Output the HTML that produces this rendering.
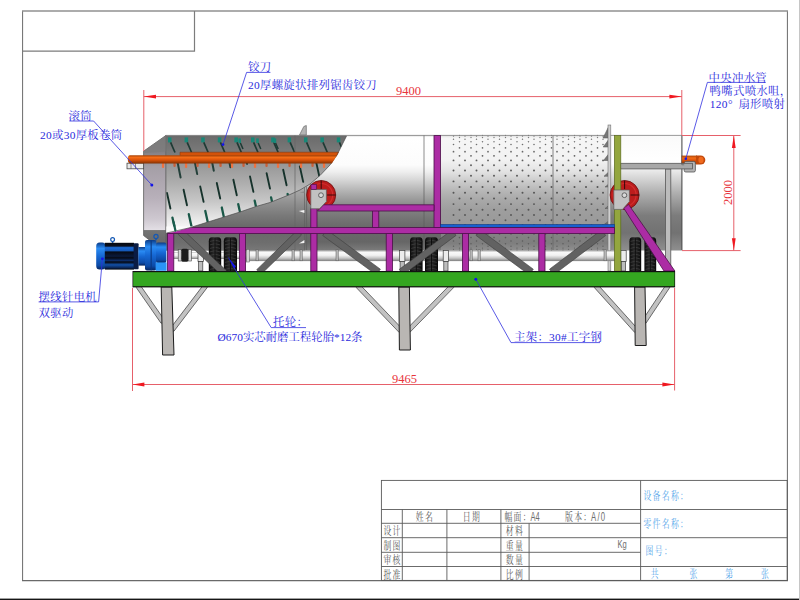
<!DOCTYPE html>
<html lang="zh-CN"><head><meta charset="utf-8"><title>drawing</title>
<style>
html,body{margin:0;padding:0;background:#fff;}
body{width:800px;height:600px;overflow:hidden;}
svg{display:block;}
text{font-family:"Liberation Serif","Noto Serif CJK SC",serif;}
.lb{fill:#2a2adc;font-size:11.4px;letter-spacing:0.3px;}
.dm{fill:#e8343c;font-size:12.5px;}
.tb{font-family:"Liberation Sans","Noto Serif CJK SC",serif;font-size:11.2px;fill:#565656;letter-spacing:1.9px;}
text.ls{font-family:"Liberation Sans",sans-serif;}
.tc{font-family:"Liberation Sans","Noto Serif CJK SC",serif;font-size:11.2px;fill:#55a6ea;letter-spacing:1.9px;}
</style></head><body>
<svg width="800" height="600" viewBox="0 0 800 600">
<defs>
<linearGradient id="gDrum" x1="0" y1="135" x2="0" y2="250.5" gradientUnits="userSpaceOnUse">
<stop offset="0.004" stop-color="#e0e0e0"/><stop offset="0.022" stop-color="#ffffff"/><stop offset="0.260" stop-color="#fcfcfc"/><stop offset="0.320" stop-color="#eeeeee"/><stop offset="0.390" stop-color="#d6d6d6"/><stop offset="0.459" stop-color="#bcbcbc"/><stop offset="0.528" stop-color="#a4a4a4"/><stop offset="0.597" stop-color="#8e8e8e"/><stop offset="0.658" stop-color="#808080"/><stop offset="0.727" stop-color="#747474"/><stop offset="0.797" stop-color="#6a6a6a"/><stop offset="0.857" stop-color="#686868"/><stop offset="0.926" stop-color="#666666"/><stop offset="1.000" stop-color="#7c7c7c"/>
</linearGradient>
<linearGradient id="gPerf" x1="0" y1="135" x2="0" y2="250.5" gradientUnits="userSpaceOnUse">
<stop offset="0.004" stop-color="#e0e0e0"/><stop offset="0.026" stop-color="#f6f6f6"/><stop offset="0.216" stop-color="#f2f2f2"/><stop offset="0.320" stop-color="#e2e2e2"/><stop offset="0.390" stop-color="#cecece"/><stop offset="0.476" stop-color="#b8b8b8"/><stop offset="0.563" stop-color="#a8a8a8"/><stop offset="0.649" stop-color="#9e9e9e"/><stop offset="0.753" stop-color="#9a9a9a"/><stop offset="0.805" stop-color="#989898"/><stop offset="0.848" stop-color="#848484"/><stop offset="0.935" stop-color="#7e7e7e"/><stop offset="1.000" stop-color="#909090"/>
</linearGradient>
<linearGradient id="gShellL" x1="0" y1="135" x2="0" y2="250.5" gradientUnits="userSpaceOnUse">
<stop offset="0.000" stop-color="#d0d0d0"/><stop offset="0.459" stop-color="#acacac"/><stop offset="0.537" stop-color="#9c9c9c"/><stop offset="0.606" stop-color="#8c8c8c"/><stop offset="0.693" stop-color="#7a7a7a"/><stop offset="0.788" stop-color="#6a6a6a"/><stop offset="0.857" stop-color="#6a6a6a"/><stop offset="0.935" stop-color="#6e6e6e"/><stop offset="1.000" stop-color="#787878"/>
</linearGradient>
<linearGradient id="gRight" x1="0" y1="135" x2="0" y2="250" gradientUnits="userSpaceOnUse">
<stop offset="0" stop-color="#fafafa"/><stop offset="0.25" stop-color="#ffffff"/>
<stop offset="0.32" stop-color="#e6e6e6"/><stop offset="0.5" stop-color="#b0b0b0"/>
<stop offset="0.7" stop-color="#7c7c7c"/><stop offset="0.85" stop-color="#727272"/>
<stop offset="1" stop-color="#8e8e8e"/>
</linearGradient>
<linearGradient id="gInner" x1="0" y1="163" x2="0" y2="232" gradientUnits="userSpaceOnUse">
<stop offset="0" stop-color="#969696"/><stop offset="0.25" stop-color="#aaaaaa"/>
<stop offset="0.55" stop-color="#c6c6c6"/><stop offset="0.8" stop-color="#e6e6e6"/><stop offset="1" stop-color="#ffffff"/>
</linearGradient>
<linearGradient id="gTopIn" x1="0" y1="135" x2="0" y2="156" gradientUnits="userSpaceOnUse">
<stop offset="0" stop-color="#6a6a6a"/><stop offset="1" stop-color="#7e7e7e"/>
</linearGradient>
<linearGradient id="gCone" x1="0" y1="135" x2="0" y2="240" gradientUnits="userSpaceOnUse">
<stop offset="0" stop-color="#767676"/><stop offset="0.16" stop-color="#848084"/>
<stop offset="0.3" stop-color="#a49ea6"/><stop offset="0.6" stop-color="#b8b0ba"/>
<stop offset="0.8" stop-color="#cec8d0"/><stop offset="0.9" stop-color="#e2dee4"/><stop offset="0.91" stop-color="#747474"/><stop offset="1" stop-color="#6c6c6c"/>
</linearGradient>
<linearGradient id="gPipe" x1="0" y1="0" x2="0" y2="1">
<stop offset="0" stop-color="#a84408"/><stop offset="0.28" stop-color="#f46c16"/>
<stop offset="0.58" stop-color="#da520a"/><stop offset="1" stop-color="#843204"/>
</linearGradient>
<linearGradient id="gShaft" x1="0" y1="0" x2="0" y2="1">
<stop offset="0" stop-color="#8e8e8e"/><stop offset="0.14" stop-color="#fafafa"/><stop offset="0.45" stop-color="#f2f2f2"/>
<stop offset="0.72" stop-color="#c6c6c6"/><stop offset="1" stop-color="#7e7e7e"/>
</linearGradient>
<linearGradient id="gMotor" x1="0" y1="0" x2="0" y2="1">
<stop offset="0" stop-color="#0c3c86"/><stop offset="0.22" stop-color="#2a8cf4"/>
<stop offset="0.5" stop-color="#1668d4"/><stop offset="0.85" stop-color="#0c4aa6"/><stop offset="1" stop-color="#06245c"/>
</linearGradient>
<linearGradient id="gFin" x1="0" y1="0" x2="0" y2="1">
<stop offset="0" stop-color="#05080f"/><stop offset="0.12" stop-color="#0a1020"/>
<stop offset="0.18" stop-color="#1a6ad6"/><stop offset="0.3" stop-color="#1458b8"/>
<stop offset="0.34" stop-color="#060a14"/><stop offset="0.5" stop-color="#0a1a3c"/>
<stop offset="0.56" stop-color="#060a14"/><stop offset="0.66" stop-color="#0c2c66"/>
<stop offset="0.72" stop-color="#050810"/><stop offset="0.82" stop-color="#1250a8"/>
<stop offset="0.92" stop-color="#0a2a60"/><stop offset="1" stop-color="#04060c"/>
</linearGradient>
<linearGradient id="gTire" x1="0" y1="0" x2="1" y2="0">
<stop offset="0" stop-color="#0a0a0a"/><stop offset="0.45" stop-color="#2e2e2e"/>
<stop offset="0.55" stop-color="#262626"/><stop offset="1" stop-color="#080808"/>
</linearGradient>
<linearGradient id="gLeg" x1="0" y1="0" x2="1" y2="0">
<stop offset="0" stop-color="#3a3a3a"/><stop offset="0.12" stop-color="#b4b4b4"/>
<stop offset="0.8" stop-color="#c6c6c6"/><stop offset="0.9" stop-color="#6a6a6a"/><stop offset="1" stop-color="#2a2a2a"/>
</linearGradient>
<clipPath id="cInner"><path d="M166,135.5 L346.8,135.5 L346.5,136 L342,145 L337,155 L330,165 L320,175.5 L310,184 L300,190 L290,194.5 L280,198.5 L270,202.5 L256,206.5 L240,212 L224,217 L208,222 L192,227 L174,232 L166,232.6 Z"/></clipPath>
</defs>
<rect x="0" y="0" width="800" height="600" fill="#ffffff"/>
<rect x="0" y="598.6" width="800" height="1.4" fill="#161616"/>
<rect x="799" y="0" width="1" height="600" fill="#c6c6c6"/>
<g fill="none" stroke="#6a6a6a" stroke-width="1">
<path d="M22.6,11 V580.6 M787.4,11 V580.6"/>
<path d="M22,11 H788" stroke="#909090" stroke-width="1.5"/>
<path d="M22.5,51.1 H194.5 V11" stroke="#7c7c7c" stroke-width="1.2"/>
</g>
<g id="machine">
<polygon points="136.1,287.3 161.1,323.3 164.9,320.7 139.9,284.7" fill="#c2c2c2" stroke="#4a4a4a" stroke-width="0.8"/>
<polygon points="203.7,284.6 170.2,328.6 173.8,331.4 207.3,287.4" fill="#c2c2c2" stroke="#4a4a4a" stroke-width="0.8"/>
<polygon points="161.2,287 171.8,287 174,355 162.6,355" fill="#b9b6b3" stroke="#1c1c1c" stroke-width="1"/>
<polygon points="356.3,287.6 399.3,332.6 402.7,329.4 359.7,284.4" fill="#c2c2c2" stroke="#4a4a4a" stroke-width="0.8"/>
<polygon points="450.4,284.4 406.4,329.4 409.6,332.6 453.6,287.6" fill="#c2c2c2" stroke="#4a4a4a" stroke-width="0.8"/>
<polygon points="398.8,287 409.4,287 410.4,350 399.4,350" fill="#b9b6b3" stroke="#1c1c1c" stroke-width="1"/>
<polygon points="594.3,287.5 634.8,332.5 638.2,329.5 597.7,284.5" fill="#c2c2c2" stroke="#4a4a4a" stroke-width="0.8"/>
<polygon points="666.1,284.7 642.1,320.7 645.9,323.3 669.9,287.3" fill="#c2c2c2" stroke="#4a4a4a" stroke-width="0.8"/>
<polygon points="634.6,287 645,287 646.2,345.5 635.2,345.5" fill="#b9b6b3" stroke="#1c1c1c" stroke-width="1"/>
<rect x="166" y="135" width="275" height="115.5" fill="url(#gDrum)"/>
<rect x="441" y="135" width="168" height="115.5" fill="url(#gPerf)"/>
<rect x="166" y="135" width="139" height="115.5" fill="url(#gShellL)"/>
<g stroke="#555" stroke-linecap="round" fill="none">
<line x1="459.5" y1="135.43" x2="607" y2="135.43" stroke-width="1.17" stroke-dasharray="0.01 11.49" opacity="0.68"/>
<line x1="453.5" y1="136.16" x2="607" y2="136.16" stroke-width="1.26" stroke-dasharray="0.01 11.49" opacity="0.71"/>
<line x1="459.5" y1="137.45" x2="607" y2="137.45" stroke-width="1.35" stroke-dasharray="0.01 11.49" opacity="0.75"/>
<line x1="453.5" y1="139.29" x2="607" y2="139.29" stroke-width="1.43" stroke-dasharray="0.01 11.49" opacity="0.78"/>
<line x1="459.5" y1="141.65" x2="607" y2="141.65" stroke-width="1.51" stroke-dasharray="0.01 11.49" opacity="0.81"/>
<line x1="453.5" y1="144.53" x2="607" y2="144.53" stroke-width="1.59" stroke-dasharray="0.01 11.49" opacity="0.84"/>
<line x1="459.5" y1="147.88" x2="607" y2="147.88" stroke-width="1.66" stroke-dasharray="0.01 11.49" opacity="0.87"/>
<line x1="453.5" y1="151.67" x2="607" y2="151.67" stroke-width="1.73" stroke-dasharray="0.01 11.49" opacity="0.89"/>
<line x1="459.5" y1="155.87" x2="607" y2="155.87" stroke-width="1.79" stroke-dasharray="0.01 11.49" opacity="0.92"/>
<line x1="453.5" y1="160.43" x2="607" y2="160.43" stroke-width="1.84" stroke-dasharray="0.01 11.49" opacity="0.94"/>
<line x1="459.5" y1="165.31" x2="607" y2="165.31" stroke-width="1.89" stroke-dasharray="0.01 11.49" opacity="0.96"/>
<line x1="453.5" y1="170.47" x2="607" y2="170.47" stroke-width="1.93" stroke-dasharray="0.01 11.49" opacity="0.97"/>
<line x1="459.5" y1="175.84" x2="607" y2="175.84" stroke-width="1.96" stroke-dasharray="0.01 11.49" opacity="0.98"/>
<line x1="453.5" y1="181.38" x2="607" y2="181.38" stroke-width="1.98" stroke-dasharray="0.01 11.49" opacity="0.99"/>
<line x1="459.5" y1="187.04" x2="607" y2="187.04" stroke-width="2.00" stroke-dasharray="0.01 11.49" opacity="1.00"/>
<line x1="453.5" y1="192.75" x2="607" y2="192.75" stroke-width="2.00" stroke-dasharray="0.01 11.49" opacity="1.00"/>
<line x1="459.5" y1="198.46" x2="607" y2="198.46" stroke-width="2.00" stroke-dasharray="0.01 11.49" opacity="1.00"/>
<line x1="453.5" y1="204.12" x2="607" y2="204.12" stroke-width="1.98" stroke-dasharray="0.01 11.49" opacity="0.99"/>
<line x1="459.5" y1="209.66" x2="607" y2="209.66" stroke-width="1.96" stroke-dasharray="0.01 11.49" opacity="0.98"/>
<line x1="453.5" y1="215.03" x2="607" y2="215.03" stroke-width="1.93" stroke-dasharray="0.01 11.49" opacity="0.97"/>
<line x1="459.5" y1="220.19" x2="607" y2="220.19" stroke-width="1.89" stroke-dasharray="0.01 11.49" opacity="0.96"/>
<line x1="453.5" y1="225.07" x2="607" y2="225.07" stroke-width="1.84" stroke-dasharray="0.01 11.49" opacity="0.94"/>
<line x1="459.5" y1="229.63" x2="607" y2="229.63" stroke-width="1.79" stroke-dasharray="0.01 11.49" opacity="0.92"/>
<line x1="453.5" y1="233.83" x2="607" y2="233.83" stroke-width="1.73" stroke-dasharray="0.01 11.49" opacity="0.89"/>
<line x1="459.5" y1="237.62" x2="607" y2="237.62" stroke-width="1.66" stroke-dasharray="0.01 11.49" opacity="0.87"/>
<line x1="453.5" y1="240.97" x2="607" y2="240.97" stroke-width="1.59" stroke-dasharray="0.01 11.49" opacity="0.84"/>
<line x1="459.5" y1="243.85" x2="607" y2="243.85" stroke-width="1.51" stroke-dasharray="0.01 11.49" opacity="0.81"/>
<line x1="453.5" y1="246.21" x2="607" y2="246.21" stroke-width="1.43" stroke-dasharray="0.01 11.49" opacity="0.78"/>
<line x1="459.5" y1="248.05" x2="607" y2="248.05" stroke-width="1.35" stroke-dasharray="0.01 11.49" opacity="0.75"/>
<line x1="453.5" y1="249.34" x2="607" y2="249.34" stroke-width="1.26" stroke-dasharray="0.01 11.49" opacity="0.71"/>
<line x1="459.5" y1="250.07" x2="607" y2="250.07" stroke-width="1.17" stroke-dasharray="0.01 11.49" opacity="0.68"/>
</g>
<rect x="609" y="135" width="73" height="115.5" fill="url(#gRight)"/>
<polygon points="143.6,151.2 166,135.4 166,250 150,240.5 143.6,235.5" fill="url(#gCone)" stroke="#5a5a5a" stroke-width="0.8"/>
<polygon points="143.6,151.2 166,135.4 166,151.5 145,153" fill="#7c7c7c" opacity="0.75"/>
<g clip-path="url(#cInner)">
<rect x="166" y="135" width="185" height="22" fill="url(#gTopIn)"/>
<rect x="166" y="156" width="185" height="80" fill="url(#gInner)"/>
<line x1="177.1" y1="160" x2="180.6" y2="177.5" stroke="#24403a" stroke-width="2" stroke-linecap="round"/>
<line x1="194.4" y1="160" x2="197.2" y2="174.1" stroke="#24403a" stroke-width="2" stroke-linecap="round"/>
<line x1="211.7" y1="160" x2="213.8" y2="170.7" stroke="#24403a" stroke-width="2" stroke-linecap="round"/>
<line x1="228.9" y1="160" x2="230.4" y2="167.3" stroke="#24403a" stroke-width="2" stroke-linecap="round"/>
<line x1="246.2" y1="160" x2="247.0" y2="163.9" stroke="#24403a" stroke-width="2" stroke-linecap="round"/>
<line x1="167.0" y1="193.0" x2="170.4" y2="208.5" stroke="#16322b" stroke-width="1.9" stroke-linecap="round"/>
<line x1="183.6" y1="189.7" x2="187.0" y2="205.2" stroke="#16322b" stroke-width="1.9" stroke-linecap="round"/>
<line x1="200.2" y1="186.4" x2="203.6" y2="201.9" stroke="#16322b" stroke-width="1.9" stroke-linecap="round"/>
<line x1="216.8" y1="183.0" x2="220.2" y2="198.5" stroke="#16322b" stroke-width="1.9" stroke-linecap="round"/>
<line x1="233.4" y1="179.7" x2="236.8" y2="195.2" stroke="#16322b" stroke-width="1.9" stroke-linecap="round"/>
<line x1="250.0" y1="176.4" x2="253.4" y2="191.9" stroke="#16322b" stroke-width="1.9" stroke-linecap="round"/>
<line x1="266.6" y1="173.1" x2="270.0" y2="188.6" stroke="#16322b" stroke-width="1.9" stroke-linecap="round"/>
<line x1="283.2" y1="169.8" x2="286.6" y2="185.3" stroke="#16322b" stroke-width="1.9" stroke-linecap="round"/>
<line x1="299.8" y1="166.4" x2="303.2" y2="181.9" stroke="#16322b" stroke-width="1.9" stroke-linecap="round"/>
<line x1="316.4" y1="163.1" x2="319.8" y2="178.6" stroke="#16322b" stroke-width="1.9" stroke-linecap="round"/>
<line x1="172.4" y1="217.6" x2="175.5" y2="231.6" stroke="#1a5848" stroke-width="2.3" stroke-linecap="round"/>
<line x1="188.8" y1="214.2" x2="191.9" y2="228.2" stroke="#1a5848" stroke-width="2.3" stroke-linecap="round"/>
<line x1="205.3" y1="210.9" x2="208.4" y2="224.9" stroke="#1a5848" stroke-width="2.3" stroke-linecap="round"/>
<line x1="221.8" y1="207.5" x2="224.8" y2="221.5" stroke="#1a5848" stroke-width="2.3" stroke-linecap="round"/>
<line x1="238.2" y1="204.1" x2="241.3" y2="218.1" stroke="#1a5848" stroke-width="2.3" stroke-linecap="round"/>
<line x1="254.7" y1="200.7" x2="257.7" y2="214.7" stroke="#1a5848" stroke-width="2.3" stroke-linecap="round"/>
<line x1="271.1" y1="197.4" x2="274.2" y2="211.4" stroke="#1a5848" stroke-width="2.3" stroke-linecap="round"/>
<line x1="287.6" y1="194.0" x2="290.6" y2="208.0" stroke="#1a5848" stroke-width="2.3" stroke-linecap="round"/>
<line x1="304.0" y1="190.6" x2="307.1" y2="204.6" stroke="#1a5848" stroke-width="2.3" stroke-linecap="round"/>
<rect x="168.0" y="137.4" width="3.5" height="5" fill="#178878"/>
<line x1="170.6" y1="142.4" x2="175.0" y2="152.5" stroke="#1e3a34" stroke-width="1.7"/>
<rect x="184.6" y="137.4" width="3.5" height="5" fill="#178878"/>
<line x1="187.2" y1="142.4" x2="191.6" y2="152.5" stroke="#1e3a34" stroke-width="1.7"/>
<rect x="201.2" y="137.4" width="3.5" height="5" fill="#178878"/>
<line x1="203.8" y1="142.4" x2="208.2" y2="152.5" stroke="#1e3a34" stroke-width="1.7"/>
<rect x="217.8" y="137.4" width="3.5" height="5" fill="#178878"/>
<line x1="220.4" y1="142.4" x2="224.8" y2="152.5" stroke="#1e3a34" stroke-width="1.7"/>
<rect x="234.4" y="137.4" width="3.5" height="5" fill="#178878"/>
<line x1="237.0" y1="142.4" x2="241.4" y2="152.5" stroke="#1e3a34" stroke-width="1.7"/>
<rect x="251.0" y="137.4" width="3.5" height="5" fill="#178878"/>
<line x1="253.6" y1="142.4" x2="258.0" y2="152.5" stroke="#1e3a34" stroke-width="1.7"/>
<rect x="271.2" y="137.4" width="3.5" height="5" fill="#178878"/>
<line x1="273.8" y1="142.4" x2="278.2" y2="152.5" stroke="#1e3a34" stroke-width="1.7"/>
<rect x="287.6" y="137.4" width="3.5" height="5" fill="#178878"/>
<line x1="290.2" y1="142.4" x2="294.6" y2="152.5" stroke="#1e3a34" stroke-width="1.7"/>
<rect x="304.0" y="137.4" width="3.5" height="5" fill="#178878"/>
<line x1="306.6" y1="142.4" x2="311.0" y2="152.5" stroke="#1e3a34" stroke-width="1.7"/>
<rect x="320.4" y="137.4" width="3.5" height="5" fill="#178878"/>
<line x1="323.0" y1="142.4" x2="327.4" y2="152.5" stroke="#1e3a34" stroke-width="1.7"/>
<rect x="336.8" y="137.4" width="3.5" height="5" fill="#178878"/>
<line x1="339.4" y1="142.4" x2="343.8" y2="152.5" stroke="#1e3a34" stroke-width="1.7"/>
<rect x="238.4" y="138.4" width="2.6" height="4.6" fill="#178878"/>
<line x1="240.4" y1="143" x2="243.0" y2="149" stroke="#1e3a34" stroke-width="1.5"/>
<rect x="256.2" y="138.4" width="2.6" height="4.6" fill="#178878"/>
<line x1="258.2" y1="143" x2="260.8" y2="149" stroke="#1e3a34" stroke-width="1.5"/>
<rect x="273.6" y="138.4" width="2.6" height="4.6" fill="#178878"/>
<line x1="275.6" y1="143" x2="278.20000000000005" y2="149" stroke="#1e3a34" stroke-width="1.5"/>
</g>
<path d="M174,232 L192,227 L208,222 L224,217 L240,212 L256,206.5 L270,202.5 L280,198.5 L290,194.5 L300,190 L310,184 L320,175.5 L330,165 L337,155 L342,145 L346.5,136" fill="none" stroke="#4a4a4a" stroke-width="0.7"/>
<g stroke="#6e6e6e" stroke-width="0.8" fill="none">
<line x1="166" y1="135.5" x2="166" y2="234"/>
<line x1="166" y1="135.4" x2="682" y2="135.4" stroke="#808080"/>
<line x1="424" y1="135.5" x2="424" y2="250" stroke="#5c5c5c" stroke-width="0.7"/>
<line x1="553" y1="135.5" x2="553" y2="250" stroke="#686868" stroke-width="0.8"/>
<line x1="681.9" y1="135.5" x2="681.9" y2="250" stroke="#505050" stroke-width="1.1"/>
<line x1="295" y1="135.5" x2="295" y2="250" stroke="#666" stroke-width="0.7"/>
<line x1="304.6" y1="187.5" x2="304.6" y2="250" stroke="#5e5e5e" stroke-width="0.7"/>
<line x1="306.6" y1="186.5" x2="306.6" y2="250" stroke="#5e5e5e" stroke-width="0.7"/>
</g>
<polygon points="304.4,191.2 304.4,193 299.6,192.4" fill="#888"/><polygon points="304.4,210 304.4,213 298.8,211" fill="#f4f4f4"/><polygon points="304.4,240 304.4,243 299,243.5" fill="#f4f4f4"/>
<polygon points="299.5,135 303.8,126.5 306.3,125.5 306.3,135" fill="#b4b4b4" stroke="#6a6a6a" stroke-width="0.7"/>
<g fill="#787878" stroke="#505050" stroke-width="0.5">
<polygon points="608.2,127.5 608.2,138 603,138"/>
<polygon points="608.2,140.2 608.2,147 603.2,147"/>
<polygon points="608.2,154.5 608.2,160.5 603.5,160.5"/>
<polygon points="608.2,172.5 608.2,176.3 604,176.3"/>
<polygon points="608.2,184.5 608.2,187 605,187"/>
<polygon points="608.2,206 608.2,208.5 605,208.5"/>
<polygon points="608.2,221.5 608.2,224 604.6,224"/>
</g>
<rect x="608" y="125" width="2.8" height="146" fill="#cfcfcf" stroke="#707070" stroke-width="0.6"/>
<rect x="665.4" y="169" width="5.4" height="102" fill="#bcbcbc" stroke="#585858" stroke-width="0.8"/>
<path d="M681.6,155.6 H697 V164 H681.6 Z" fill="url(#gPipe)"/>
<path d="M696,155.4 H700.6 A4.7,4.6 0 0 1 700.6,164.6 H696 Z" fill="#c2480a"/>
<ellipse cx="701" cy="160" rx="2.6" ry="3.2" fill="#f06a1e"/>
<rect x="684.2" y="161.4" width="11.2" height="10.6" rx="1.6" fill="#b4b4b4" stroke="#555" stroke-width="0.8"/>
<rect x="620.5" y="163.3" width="72" height="5.6" fill="#a8a8a8" stroke="#565656" stroke-width="0.8"/>
<path d="M684.2,164.8 H681.8 V155.6" fill="none" stroke="#555" stroke-width="0.6"/>
<rect x="173" y="252.6" width="74" height="6.4" fill="url(#gShaft)"/>
<rect x="246" y="250.5" width="369" height="10.6" fill="url(#gShaft)"/>
<rect x="246.4" y="249.4" width="3" height="12.6" fill="#d2d2d2" stroke="#555" stroke-width="0.5"/>
<rect x="178.2" y="249.5" width="3" height="11.5" fill="#d8d8d8" stroke="#444" stroke-width="0.6"/>
<rect x="181.39999999999998" y="248.8" width="6.8" height="13" rx="1.5" fill="#1c1c1c"/>
<rect x="188.39999999999998" y="249.5" width="3" height="11.5" fill="#d8d8d8" stroke="#444" stroke-width="0.6"/>
<rect x="198" y="250.5" width="5.4" height="11" fill="#ececec" stroke="#3c3c3c" stroke-width="0.7"/>
<rect x="198.6" y="261.5" width="4.2" height="9.5" fill="#bdbdbd" stroke="#3c3c3c" stroke-width="0.7"/>
<rect x="399.5" y="250.5" width="5.4" height="11" fill="#ececec" stroke="#3c3c3c" stroke-width="0.7"/>
<rect x="400.1" y="261.5" width="4.2" height="9.5" fill="#bdbdbd" stroke="#3c3c3c" stroke-width="0.7"/>
<rect x="443.2" y="250.5" width="5.4" height="11" fill="#ececec" stroke="#3c3c3c" stroke-width="0.7"/>
<rect x="443.8" y="261.5" width="4.2" height="9.5" fill="#bdbdbd" stroke="#3c3c3c" stroke-width="0.7"/>
<rect x="620.8" y="250.5" width="5.4" height="11" fill="#ececec" stroke="#3c3c3c" stroke-width="0.7"/>
<rect x="621.4" y="261.5" width="4.2" height="9.5" fill="#bdbdbd" stroke="#3c3c3c" stroke-width="0.7"/>
<rect x="256" y="249.8" width="2.2" height="11" fill="#bbb" stroke="#555" stroke-width="0.5"/>
<rect x="292" y="249.8" width="2.2" height="11" fill="#bbb" stroke="#555" stroke-width="0.5"/>
<rect x="300" y="249.8" width="2.2" height="11" fill="#bbb" stroke="#555" stroke-width="0.5"/>
<rect x="336" y="249.8" width="2.2" height="11" fill="#bbb" stroke="#555" stroke-width="0.5"/>
<rect x="470" y="249.8" width="2.2" height="11" fill="#bbb" stroke="#555" stroke-width="0.5"/>
<rect x="478" y="249.8" width="2.2" height="11" fill="#bbb" stroke="#555" stroke-width="0.5"/>
<rect x="604" y="249.8" width="2.2" height="11" fill="#bbb" stroke="#555" stroke-width="0.5"/>
<rect x="208.8" y="237.2" width="12.4" height="38" rx="3" ry="4" fill="url(#gTire)"/>
<path d="M210.0,241.39999999999998 L215.0,240.2 L220.00000000000003,241.39999999999998" fill="none" stroke="#4a4a4a" stroke-width="0.6"/>
<path d="M210.0,244.89999999999998 L215.0,243.7 L220.00000000000003,244.89999999999998" fill="none" stroke="#4a4a4a" stroke-width="0.6"/>
<path d="M210.0,248.39999999999998 L215.0,247.2 L220.00000000000003,248.39999999999998" fill="none" stroke="#4a4a4a" stroke-width="0.6"/>
<path d="M210.0,251.89999999999998 L215.0,250.7 L220.00000000000003,251.89999999999998" fill="none" stroke="#4a4a4a" stroke-width="0.6"/>
<path d="M210.0,255.39999999999998 L215.0,254.2 L220.00000000000003,255.39999999999998" fill="none" stroke="#4a4a4a" stroke-width="0.6"/>
<path d="M210.0,258.9 L215.0,257.7 L220.00000000000003,258.9" fill="none" stroke="#4a4a4a" stroke-width="0.6"/>
<path d="M210.0,262.4 L215.0,261.2 L220.00000000000003,262.4" fill="none" stroke="#4a4a4a" stroke-width="0.6"/>
<path d="M210.0,265.9 L215.0,264.7 L220.00000000000003,265.9" fill="none" stroke="#4a4a4a" stroke-width="0.6"/>
<path d="M210.0,269.4 L215.0,268.2 L220.00000000000003,269.4" fill="none" stroke="#4a4a4a" stroke-width="0.6"/>
<path d="M210.0,272.9 L215.0,271.7 L220.00000000000003,272.9" fill="none" stroke="#4a4a4a" stroke-width="0.6"/>
<line x1="215.0" y1="238.2" x2="215.0" y2="275.2" stroke="#050505" stroke-width="0.8"/>
<rect x="223.8" y="237.2" width="13.2" height="38" rx="3" ry="4" fill="url(#gTire)"/>
<path d="M225.0,241.39999999999998 L230.4,240.2 L235.8,241.39999999999998" fill="none" stroke="#4a4a4a" stroke-width="0.6"/>
<path d="M225.0,244.89999999999998 L230.4,243.7 L235.8,244.89999999999998" fill="none" stroke="#4a4a4a" stroke-width="0.6"/>
<path d="M225.0,248.39999999999998 L230.4,247.2 L235.8,248.39999999999998" fill="none" stroke="#4a4a4a" stroke-width="0.6"/>
<path d="M225.0,251.89999999999998 L230.4,250.7 L235.8,251.89999999999998" fill="none" stroke="#4a4a4a" stroke-width="0.6"/>
<path d="M225.0,255.39999999999998 L230.4,254.2 L235.8,255.39999999999998" fill="none" stroke="#4a4a4a" stroke-width="0.6"/>
<path d="M225.0,258.9 L230.4,257.7 L235.8,258.9" fill="none" stroke="#4a4a4a" stroke-width="0.6"/>
<path d="M225.0,262.4 L230.4,261.2 L235.8,262.4" fill="none" stroke="#4a4a4a" stroke-width="0.6"/>
<path d="M225.0,265.9 L230.4,264.7 L235.8,265.9" fill="none" stroke="#4a4a4a" stroke-width="0.6"/>
<path d="M225.0,269.4 L230.4,268.2 L235.8,269.4" fill="none" stroke="#4a4a4a" stroke-width="0.6"/>
<path d="M225.0,272.9 L230.4,271.7 L235.8,272.9" fill="none" stroke="#4a4a4a" stroke-width="0.6"/>
<line x1="230.4" y1="238.2" x2="230.4" y2="275.2" stroke="#050505" stroke-width="0.8"/>
<rect x="410" y="237.2" width="12.6" height="38" rx="3" ry="4" fill="url(#gTire)"/>
<path d="M411.2,241.39999999999998 L416.3,240.2 L421.40000000000003,241.39999999999998" fill="none" stroke="#4a4a4a" stroke-width="0.6"/>
<path d="M411.2,244.89999999999998 L416.3,243.7 L421.40000000000003,244.89999999999998" fill="none" stroke="#4a4a4a" stroke-width="0.6"/>
<path d="M411.2,248.39999999999998 L416.3,247.2 L421.40000000000003,248.39999999999998" fill="none" stroke="#4a4a4a" stroke-width="0.6"/>
<path d="M411.2,251.89999999999998 L416.3,250.7 L421.40000000000003,251.89999999999998" fill="none" stroke="#4a4a4a" stroke-width="0.6"/>
<path d="M411.2,255.39999999999998 L416.3,254.2 L421.40000000000003,255.39999999999998" fill="none" stroke="#4a4a4a" stroke-width="0.6"/>
<path d="M411.2,258.9 L416.3,257.7 L421.40000000000003,258.9" fill="none" stroke="#4a4a4a" stroke-width="0.6"/>
<path d="M411.2,262.4 L416.3,261.2 L421.40000000000003,262.4" fill="none" stroke="#4a4a4a" stroke-width="0.6"/>
<path d="M411.2,265.9 L416.3,264.7 L421.40000000000003,265.9" fill="none" stroke="#4a4a4a" stroke-width="0.6"/>
<path d="M411.2,269.4 L416.3,268.2 L421.40000000000003,269.4" fill="none" stroke="#4a4a4a" stroke-width="0.6"/>
<path d="M411.2,272.9 L416.3,271.7 L421.40000000000003,272.9" fill="none" stroke="#4a4a4a" stroke-width="0.6"/>
<line x1="416.3" y1="238.2" x2="416.3" y2="275.2" stroke="#050505" stroke-width="0.8"/>
<rect x="425" y="237.2" width="13" height="38" rx="3" ry="4" fill="url(#gTire)"/>
<path d="M426.2,241.39999999999998 L431.5,240.2 L436.8,241.39999999999998" fill="none" stroke="#4a4a4a" stroke-width="0.6"/>
<path d="M426.2,244.89999999999998 L431.5,243.7 L436.8,244.89999999999998" fill="none" stroke="#4a4a4a" stroke-width="0.6"/>
<path d="M426.2,248.39999999999998 L431.5,247.2 L436.8,248.39999999999998" fill="none" stroke="#4a4a4a" stroke-width="0.6"/>
<path d="M426.2,251.89999999999998 L431.5,250.7 L436.8,251.89999999999998" fill="none" stroke="#4a4a4a" stroke-width="0.6"/>
<path d="M426.2,255.39999999999998 L431.5,254.2 L436.8,255.39999999999998" fill="none" stroke="#4a4a4a" stroke-width="0.6"/>
<path d="M426.2,258.9 L431.5,257.7 L436.8,258.9" fill="none" stroke="#4a4a4a" stroke-width="0.6"/>
<path d="M426.2,262.4 L431.5,261.2 L436.8,262.4" fill="none" stroke="#4a4a4a" stroke-width="0.6"/>
<path d="M426.2,265.9 L431.5,264.7 L436.8,265.9" fill="none" stroke="#4a4a4a" stroke-width="0.6"/>
<path d="M426.2,269.4 L431.5,268.2 L436.8,269.4" fill="none" stroke="#4a4a4a" stroke-width="0.6"/>
<path d="M426.2,272.9 L431.5,271.7 L436.8,272.9" fill="none" stroke="#4a4a4a" stroke-width="0.6"/>
<line x1="431.5" y1="238.2" x2="431.5" y2="275.2" stroke="#050505" stroke-width="0.8"/>
<rect x="629.4" y="237.2" width="11.8" height="38" rx="3" ry="4" fill="url(#gTire)"/>
<path d="M630.6,241.39999999999998 L635.3,240.2 L639.9999999999999,241.39999999999998" fill="none" stroke="#4a4a4a" stroke-width="0.6"/>
<path d="M630.6,244.89999999999998 L635.3,243.7 L639.9999999999999,244.89999999999998" fill="none" stroke="#4a4a4a" stroke-width="0.6"/>
<path d="M630.6,248.39999999999998 L635.3,247.2 L639.9999999999999,248.39999999999998" fill="none" stroke="#4a4a4a" stroke-width="0.6"/>
<path d="M630.6,251.89999999999998 L635.3,250.7 L639.9999999999999,251.89999999999998" fill="none" stroke="#4a4a4a" stroke-width="0.6"/>
<path d="M630.6,255.39999999999998 L635.3,254.2 L639.9999999999999,255.39999999999998" fill="none" stroke="#4a4a4a" stroke-width="0.6"/>
<path d="M630.6,258.9 L635.3,257.7 L639.9999999999999,258.9" fill="none" stroke="#4a4a4a" stroke-width="0.6"/>
<path d="M630.6,262.4 L635.3,261.2 L639.9999999999999,262.4" fill="none" stroke="#4a4a4a" stroke-width="0.6"/>
<path d="M630.6,265.9 L635.3,264.7 L639.9999999999999,265.9" fill="none" stroke="#4a4a4a" stroke-width="0.6"/>
<path d="M630.6,269.4 L635.3,268.2 L639.9999999999999,269.4" fill="none" stroke="#4a4a4a" stroke-width="0.6"/>
<path d="M630.6,272.9 L635.3,271.7 L639.9999999999999,272.9" fill="none" stroke="#4a4a4a" stroke-width="0.6"/>
<line x1="635.3" y1="238.2" x2="635.3" y2="275.2" stroke="#050505" stroke-width="0.8"/>
<rect x="644.4" y="237.2" width="11.8" height="38" rx="3" ry="4" fill="url(#gTire)"/>
<path d="M645.6,241.39999999999998 L650.3,240.2 L654.9999999999999,241.39999999999998" fill="none" stroke="#4a4a4a" stroke-width="0.6"/>
<path d="M645.6,244.89999999999998 L650.3,243.7 L654.9999999999999,244.89999999999998" fill="none" stroke="#4a4a4a" stroke-width="0.6"/>
<path d="M645.6,248.39999999999998 L650.3,247.2 L654.9999999999999,248.39999999999998" fill="none" stroke="#4a4a4a" stroke-width="0.6"/>
<path d="M645.6,251.89999999999998 L650.3,250.7 L654.9999999999999,251.89999999999998" fill="none" stroke="#4a4a4a" stroke-width="0.6"/>
<path d="M645.6,255.39999999999998 L650.3,254.2 L654.9999999999999,255.39999999999998" fill="none" stroke="#4a4a4a" stroke-width="0.6"/>
<path d="M645.6,258.9 L650.3,257.7 L654.9999999999999,258.9" fill="none" stroke="#4a4a4a" stroke-width="0.6"/>
<path d="M645.6,262.4 L650.3,261.2 L654.9999999999999,262.4" fill="none" stroke="#4a4a4a" stroke-width="0.6"/>
<path d="M645.6,265.9 L650.3,264.7 L654.9999999999999,265.9" fill="none" stroke="#4a4a4a" stroke-width="0.6"/>
<path d="M645.6,269.4 L650.3,268.2 L654.9999999999999,269.4" fill="none" stroke="#4a4a4a" stroke-width="0.6"/>
<path d="M645.6,272.9 L650.3,271.7 L654.9999999999999,272.9" fill="none" stroke="#4a4a4a" stroke-width="0.6"/>
<line x1="650.3" y1="238.2" x2="650.3" y2="275.2" stroke="#050505" stroke-width="0.8"/>
<clipPath id="cBr"><rect x="160" y="233.5" width="470" height="37.8"/></clipPath><g clip-path="url(#cBr)">
<polygon points="178.2,234.4 221.8,275.4 226.4,270.6 182.8,229.6" fill="#626262" stroke="#3e3e3e" stroke-width="0.6"/>
<polygon points="297.1,230.4 256.7,269.7 261.1,274.3 301.5,235.0" fill="#626262" stroke="#3e3e3e" stroke-width="0.6"/>
<polygon points="322.7,235.5 376.2,274.8 380.4,269.2 326.9,229.9" fill="#626262" stroke="#3e3e3e" stroke-width="0.6"/>
<polygon points="452.0,230.0 399.3,269.3 403.3,274.7 456.0,235.4" fill="#626262" stroke="#3e3e3e" stroke-width="0.6"/>
<polygon points="476.1,235.5 529.1,274.8 533.3,269.2 480.3,229.9" fill="#626262" stroke="#3e3e3e" stroke-width="0.6"/>
<polygon points="601.5,229.9 549.5,269.2 553.7,274.8 605.7,235.5" fill="#626262" stroke="#3e3e3e" stroke-width="0.6"/>
</g>
<circle cx="321.2" cy="195" r="14.5" fill="#bc1c1c" stroke="#6a0e0e" stroke-width="0.8"/>
<circle cx="321.2" cy="195" r="11.5" fill="none" stroke="#e03a3a" stroke-width="1.2" opacity="0.6"/>
<path d="M321.2,180.5 V189 M327.2,195 H335.7" stroke="#2a0808" stroke-width="0.9" fill="none"/>
<circle cx="624.6" cy="195" r="14.5" fill="#bc1c1c" stroke="#6a0e0e" stroke-width="0.8"/>
<circle cx="624.6" cy="195" r="11.5" fill="none" stroke="#e03a3a" stroke-width="1.2" opacity="0.6"/>
<path d="M624.6,180.5 V189 M630.6,195 H639.1" stroke="#2a0808" stroke-width="0.9" fill="none"/>
<rect x="614.4" y="135.6" width="6.4" height="135.6" fill="#93a63e" stroke="#5a6a20" stroke-width="0.7"/>
<rect x="167.6" y="233" width="6.2" height="38.2" fill="#ac2ca4" stroke="#4a1048" stroke-width="0.8"/>
<rect x="239.4" y="233" width="6.2" height="38.2" fill="#ac2ca4" stroke="#4a1048" stroke-width="0.8"/>
<rect x="386.2" y="233" width="6.2" height="38.2" fill="#ac2ca4" stroke="#4a1048" stroke-width="0.8"/>
<rect x="462.4" y="233" width="6.2" height="38.2" fill="#ac2ca4" stroke="#4a1048" stroke-width="0.8"/>
<rect x="538.8" y="233" width="6.2" height="38.2" fill="#ac2ca4" stroke="#4a1048" stroke-width="0.8"/>
<rect x="310.8" y="208" width="6.2" height="63.2" fill="#ac2ca4" stroke="#4a1048" stroke-width="0.8"/>
<rect x="372.6" y="210.5" width="6.2" height="17.5" fill="#ac2ca4" stroke="#4a1048" stroke-width="0.8"/>
<rect x="434" y="135.6" width="6.6" height="92.4" fill="#ac2ca4" stroke="#4a1048" stroke-width="0.8"/>
<rect x="440.6" y="224.4" width="174" height="3.4" fill="#1860d0" stroke="#0c3070" stroke-width="0.5"/>
<rect x="167.6" y="227.6" width="446.8" height="6" fill="#ac2ca4" stroke="#4a1048" stroke-width="0.8"/>
<polygon points="323.5,204.8 434,204.8 434,211 317.4,211" fill="#ac2ca4" stroke="#4a1048" stroke-width="0.8"/>
<polygon points="623.75,208.2 628.5,204.4 674.9,271 664,271" fill="#ac2ca4" stroke="#4a1048" stroke-width="0.8"/>
<polygon points="166.4,226.6 194,226.6 174,232 166.4,233" fill="#fbfbfb"/>
<line x1="166.6" y1="233" x2="194" y2="226.8" stroke="#4a4a4a" stroke-width="0.7"/>
<line x1="173.6" y1="222" x2="175.4" y2="230.6" stroke="#1b5e4e" stroke-width="2.2" stroke-linecap="round"/>
<polygon points="310.8,189.4 326.4,189.4 326.4,201.5 319.5,208.8 310.8,208.8" fill="#c2c2c2" stroke="#5c5c5c" stroke-width="0.7"/>
<rect x="311" y="184.4" width="5.6" height="5" fill="#ac2ca4" stroke="#4a1048" stroke-width="0.6"/>
<circle cx="321" cy="195.2" r="2.4" fill="#d8d8d8" stroke="#4a4a4a" stroke-width="0.8"/>
<polygon points="613.8,190 629.4,190 629.4,201.5 622.5,209.4 613.8,209.4" fill="#c2c2c2" stroke="#5c5c5c" stroke-width="0.7"/>
<circle cx="624.4" cy="195.2" r="2.4" fill="#d8d8d8" stroke="#4a4a4a" stroke-width="0.8"/>
<polygon points="180,152.2 338.4,152.2 336.4,156 180,156" fill="#d2520a" stroke="#7a3006" stroke-width="0.5"/>
<rect x="161.9" y="162.6" width="2.3" height="5.4" rx="1.1" fill="#ee7240"/>
<rect x="173.4" y="162.6" width="2.3" height="4.4" rx="1.1" fill="#c8603a"/>
<rect x="184.9" y="162.6" width="2.3" height="5.4" rx="1.1" fill="#ee7240"/>
<rect x="196.4" y="162.6" width="2.3" height="4.4" rx="1.1" fill="#c8603a"/>
<rect x="207.9" y="162.6" width="2.3" height="5.4" rx="1.1" fill="#ee7240"/>
<rect x="219.4" y="162.6" width="2.3" height="4.4" rx="1.1" fill="#c8603a"/>
<rect x="230.9" y="162.6" width="2.3" height="5.4" rx="1.1" fill="#ee7240"/>
<rect x="242.4" y="162.6" width="2.3" height="4.4" rx="1.1" fill="#c8603a"/>
<rect x="253.9" y="162.6" width="2.3" height="5.4" rx="1.1" fill="#ee7240"/>
<rect x="265.4" y="162.6" width="2.3" height="4.4" rx="1.1" fill="#c8603a"/>
<rect x="276.9" y="162.6" width="2.3" height="5.4" rx="1.1" fill="#ee7240"/>
<rect x="288.4" y="162.6" width="2.3" height="4.4" rx="1.1" fill="#c8603a"/>
<rect x="299.9" y="162.6" width="2.3" height="5.4" rx="1.1" fill="#ee7240"/>
<rect x="311.4" y="162.6" width="2.3" height="4.4" rx="1.1" fill="#c8603a"/>
<rect x="322.9" y="162.6" width="2.3" height="5.4" rx="1.1" fill="#ee7240"/>
<rect x="127" y="163.2" width="16.6" height="5.6" fill="#e8e8e8" stroke="#4c4c4c" stroke-width="0.8"/>
<line x1="131" y1="163.2" x2="131" y2="168.8" stroke="#4c4c4c" stroke-width="0.6"/><line x1="135.5" y1="163.2" x2="135.5" y2="168.8" stroke="#4c4c4c" stroke-width="0.6"/>
<path d="M130,155.2 H337 L331.8,163.4 H130 A2.2,4.1 0 0 1 130,155.2 Z" fill="url(#gPipe)"/>
<rect x="132.5" y="271" width="542.6" height="16.4" fill="#111"/>
<rect x="133.2" y="272.2" width="541.2" height="14" fill="#34a620"/>
<g>
<circle cx="112.6" cy="239.6" r="1.9" fill="none" stroke="#1458b4" stroke-width="1.2"/><rect x="111.8" y="241" width="1.6" height="2" fill="#1458b4"/>
<circle cx="156" cy="236.4" r="2.1" fill="none" stroke="#1458b4" stroke-width="1.2"/><rect x="155.2" y="238" width="1.6" height="2.4" fill="#1458b4"/>
<rect x="96.2" y="242.6" width="9.4" height="27" rx="3.5" fill="url(#gMotor)"/>
<rect x="104.8" y="242.8" width="29.2" height="26.8" fill="url(#gFin)"/>
<rect x="133.6" y="243.2" width="5" height="26" rx="1" fill="#0a1c44"/>
<rect x="138.4" y="247" width="7" height="18.6" fill="url(#gMotor)"/>
<rect x="145" y="240" width="11.4" height="30.6" rx="2" fill="url(#gMotor)"/>
<rect x="156" y="242.6" width="10.4" height="20.4" rx="2" fill="url(#gMotor)"/>
<rect x="155.6" y="262.4" width="11" height="8.4" fill="#2a94f6"/>
<rect x="150.6" y="240.4" width="1.1" height="30" fill="#0a3880"/>
</g>
</g>
<g stroke="#e6606a" stroke-width="1" fill="none">
<line x1="143.8" y1="90" x2="143.8" y2="151"/>
<line x1="681.8" y1="90" x2="681.8" y2="135"/>
<line x1="143.8" y1="96.6" x2="681.8" y2="96.6"/>
<line x1="132.5" y1="288" x2="132.5" y2="391"/>
<line x1="674.6" y1="288" x2="674.6" y2="390.5"/>
<line x1="132.5" y1="384.5" x2="674.6" y2="384.5"/>
<line x1="682" y1="135.5" x2="740.6" y2="135.5"/>
<line x1="682" y1="250.6" x2="740.6" y2="250.6"/>
<line x1="733.8" y1="135.5" x2="733.8" y2="250.6"/>
</g>
<g fill="#f01820">
<polygon points="143.8,96.6 156,94.7 156,98.5"/>
<polygon points="681.8,96.6 669.4,94.7 669.4,98.5"/>
<polygon points="132.5,384.5 144.4,382.6 144.4,386.4"/>
<polygon points="674.6,384.5 662.4,382.6 662.4,386.4"/>
<polygon points="733.8,135.5 731.9,148 735.7,148"/>
<polygon points="733.8,250.6 731.9,238.2 735.7,238.2"/>
</g>
<text class="dm" x="396" y="95">9400</text>
<text class="dm" x="392" y="382.6">9465</text>
<text class="dm" transform="translate(732.2,205) rotate(-90)">2000</text>
<g stroke="#3030e0" stroke-width="0.8" fill="none">
<path d="M69.4,121 H93.6 L151.8,185"/>
<path d="M270.4,72.4 H246.6 L223,144.6"/>
<path d="M765.8,82.4 H707.4 L685.8,158.8"/>
<path d="M38.6,301.9 H98.6 L102.4,258.8"/>
<path d="M306,327.6 H271.2 L233,266"/>
<path d="M600,342.6 H511 L475.8,279.2"/>
</g>
<g fill="#1414e8">
<circle cx="151.8" cy="185" r="1.5"/>
<circle cx="223" cy="144.6" r="1.4"/>
<circle cx="685.8" cy="158.8" r="1.3"/>
<circle cx="102.4" cy="258.8" r="1.4"/>
<circle cx="475.8" cy="279.2" r="1.5"/>
<polygon points="227.4,256.2 236,266.8 233.8,268.2"/>
</g>
<text class="lb" x="68.6" y="119.8">滚筒</text>
<text class="lb" x="40" y="138.5">20或30厚板卷筒</text>
<text class="lb" x="248" y="70.8">铰刀</text>
<text class="lb" x="248" y="88.8">20厚螺旋状排列锯齿铰刀</text>
<text class="lb" x="708.6" y="81.8">中央冲水管</text>
<text class="lb" x="709.6" y="95.3">鸭嘴式喷水咀，</text>
<text class="lb" y="108.2"><tspan x="709.8">120</tspan><tspan x="728">°</tspan><tspan x="738.4">扇形喷射</tspan></text>
<text class="lb" x="38.6" y="301.0">摆线针电机</text>
<text class="lb" x="38.6" y="317.3">双驱动</text>
<text class="lb" x="273" y="326.0">托轮：</text>
<text class="lb" x="217.6" y="341.0" style="letter-spacing:0">Ø670实芯耐磨工程轮胎*12条</text>
<text class="lb" x="514" y="341.0">主架：30#工字钢</text>
<g stroke="#5a5a5a" stroke-width="0.9" fill="none">
<path d="M22,580.6 H788" stroke="#6a6a6a" stroke-width="1.2"/>
<rect x="381.4" y="480.4" width="405.8" height="100"/>
<path d="M381.4,509.5 H787 M381.4,523.3 H640.6 M381.4,537.7 H787 M381.4,552.3 H640.6 M381.4,566.5 H787"/>
<path d="M402.3,509.5 V580.4 M446.9,509.5 V580.4 M500.9,509.5 V580.4 M529.1,523.3 V580.4 M640.6,480.4 V580.4"/>
</g>
<text class="tb" transform="translate(415.8,520.8) scale(0.7,1)">姓名</text>
<text class="tb" transform="translate(462.8,520.8) scale(0.7,1)">日期</text>
<text class="tb" transform="translate(504.4,520.8) scale(0.7,1)">幅面：</text>
<text transform="translate(530.6,520.8) scale(0.6,1)" class="ls" font-size="12.5" fill="#6e6e6e">A4</text>
<text class="tb" transform="translate(565,520.8) scale(0.7,1)">版本：</text>
<text transform="translate(591,520.8) scale(0.62,1)" class="ls" font-size="12.5" letter-spacing="2" fill="#6e6e6e">A/0</text>
<text class="tb" transform="translate(383.4,535) scale(0.7,1)">设计</text>
<text class="tb" transform="translate(383.4,549.8) scale(0.7,1)">制图</text>
<text class="tb" transform="translate(383.4,564.4) scale(0.7,1)">审核</text>
<text class="tb" transform="translate(383.4,578.8) scale(0.7,1)">批准</text>
<text class="tb" transform="translate(505.8,535) scale(0.7,1)">材料</text>
<text class="tb" transform="translate(505.8,549.8) scale(0.7,1)">重量</text>
<text class="tb" transform="translate(505.8,564.4) scale(0.7,1)">数量</text>
<text class="tb" transform="translate(505.8,578.8) scale(0.7,1)">比例</text>
<text transform="translate(617.4,548) scale(0.66,1)" class="ls" font-size="11.5" fill="#6e6e6e">Kg</text>
<text class="tc" transform="translate(643.4,500) scale(0.7,1)">设备名称：</text>
<text class="tc" transform="translate(643.4,528.2) scale(0.7,1)">零件名称：</text>
<text class="tc" transform="translate(645.6,555.2) scale(0.7,1)">图号：</text>
<text class="tc" transform="translate(650.8,578) scale(0.7,1)">共</text>
<text class="tc" transform="translate(689.6,578) scale(0.7,1)">张</text>
<text class="tc" transform="translate(725.2,578) scale(0.7,1)">第</text>
<text class="tc" transform="translate(761,578) scale(0.7,1)">张</text>
</svg>
</body></html>
